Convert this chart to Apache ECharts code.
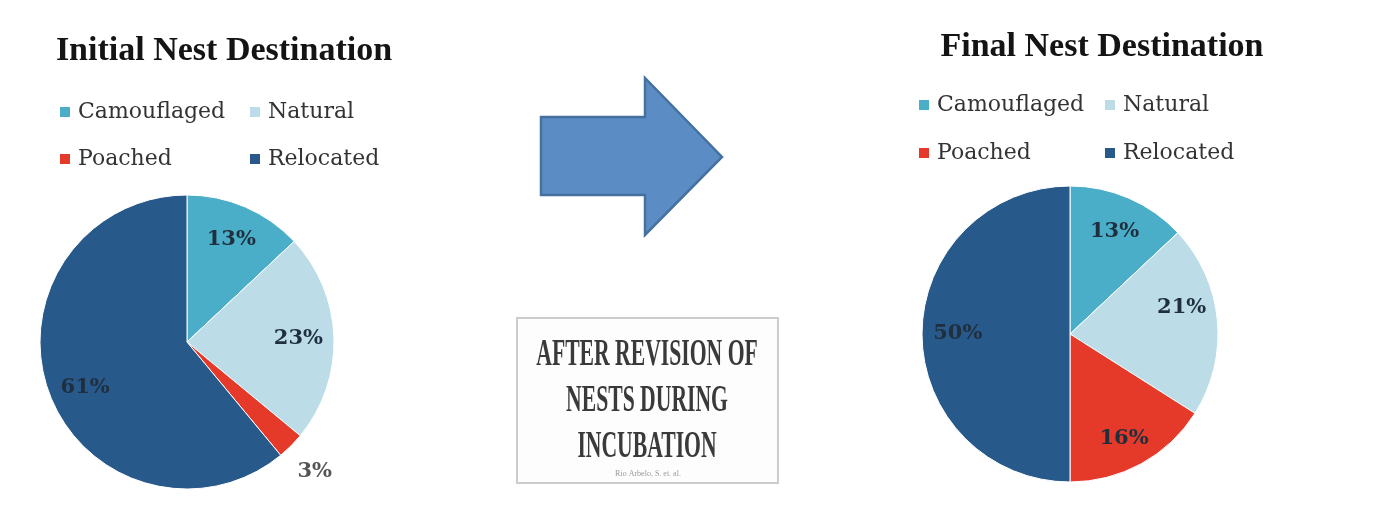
<!DOCTYPE html>
<html><head><meta charset="utf-8">
<script src="https://cdn.jsdelivr.net/npm/echarts@6/dist/echarts.min.js"></script>
<style>html,body{margin:0;padding:0;background:#fff}#c{width:1381px;height:510px}</style>
</head><body><div id="c"></div>
<script>
const categories = ['Camouflaged', 'Natural', 'Poached', 'Relocated'];
const initialValues = [13, 23, 3, 61];
const finalValues = [13, 21, 16, 50];
const initialTitle = 'Initial Nest Destination';
const finalTitle = 'Final Nest Destination';
const noteLines = ['AFTER REVISION OF', 'NESTS DURING', 'INCUBATION'];
const noteSmall = 'Rio Arbelo, S. et. al.';

const colors = ['#4aaec8', '#bcdde8', '#e5392a', '#28598b'];
const serif = '"DejaVu Serif", serif';
const titleFont = '"Liberation Serif", serif';
const noteFont = '"Liberation Serif", serif';

function pieSeries(values, center, r) {
  return {
    type: 'pie', center: center, radius: [0, r], startAngle: 90, clockwise: true,
    silent: true, animation: false,
    label: { show: false }, labelLine: { show: false },
    emphasis: { disabled: true },
    itemStyle: { borderColor: '#ffffff', borderWidth: 1 },
    data: categories.map((n, i) => ({ name: n, value: values[i], itemStyle: { color: colors[i] } }))
  };
}
function labelSeries(values, center, r, overrides) {
  return {
    type: 'pie', center: center, radius: [r * 0.475, r], startAngle: 90, clockwise: true,
    silent: true, animation: false, avoidLabelOverlap: false,
    emphasis: { disabled: true },
    itemStyle: { color: 'rgba(0,0,0,0)', borderWidth: 0 },
    label: { show: true, position: 'inside', formatter: '{c}%', fontFamily: serif,
             fontSize: 21, fontWeight: 'bold', color: '#1f2f3e' },
    labelLine: { show: false },
    data: categories.map((n, i) => ({ name: n, value: values[i], label: overrides[n] || {} }))
  };
}

const leftCenter = [187, 342], leftR = 147;
const rightCenter = [1070, 334], rightR = 148;

const legendText = { fontFamily: serif, fontSize: 22, color: '#333333', lineHeight: 24, padding: [0, 0, 0, 2] };
function legend(names, left, top, gap) {
  return { data: names, left: left, top: top, orient: 'vertical', itemGap: gap, padding: 0,
           icon: 'rect', itemWidth: 12, itemHeight: 12, selectedMode: false, textStyle: legendText };
}

const chart = echarts.init(document.getElementById('c'), null, { renderer: 'canvas' });
chart.setOption({
  backgroundColor: '#ffffff',
  animation: false,
  title: [
    { text: initialTitle, left: 224, top: 34, textAlign: 'center', padding: 0,
      textStyle: { fontFamily: titleFont, fontSize: 34, fontWeight: 'bold', color: '#141414' } },
    { text: finalTitle, left: 1102, top: 30, textAlign: 'center', padding: 0,
      textStyle: { fontFamily: titleFont, fontSize: 34, fontWeight: 'bold', color: '#141414' } }
  ],
  legend: [
    legend([categories[0], categories[2]], 58, 100, 23),
    legend([categories[1], categories[3]], 248, 100, 23),
    legend([categories[0], categories[2]], 917, 93, 24),
    legend([categories[1], categories[3]], 1103, 93, 24)
  ],
  series: [
    pieSeries(initialValues, leftCenter, leftR),
    pieSeries(finalValues, rightCenter, rightR),
    labelSeries(initialValues, leftCenter, leftR, {
      Poached: { offset: [49, 51], color: '#555555' },
      Relocated: { offset: [3, 8] }
    }),
    labelSeries(finalValues, rightCenter, rightR, {
      Natural: { offset: [0, -16] },
      Poached: { offset: [0, 6] }
    })
  ],
  graphic: [
    { type: 'polygon', shape: { points: [[541,117],[645,117],[645,78],[722,157],[645,235],[645,195],[541,195]] },
      style: { fill: '#5b8cc4', stroke: '#44719f', lineWidth: 2.5 } },
    { type: 'rect', shape: { x: 517, y: 318, width: 261, height: 165 },
      style: { fill: '#fdfdfd', stroke: '#cccccc', lineWidth: 2 } },
    ...noteLines.map((t, i) => ({
      type: 'text', x: 647, y: 355 + i * 46, scaleX: 0.57,
      style: { text: t, fontFamily: noteFont, fontSize: 38, fontWeight: 'bold', fill: '#3a3a3a',
               align: 'center', verticalAlign: 'middle' }
    })),
    { type: 'text', x: 648, y: 474,
      style: { text: noteSmall, fontFamily: noteFont, fontSize: 8, fill: '#999999',
               align: 'center', verticalAlign: 'middle' } }
  ]
});
</script></body></html>
